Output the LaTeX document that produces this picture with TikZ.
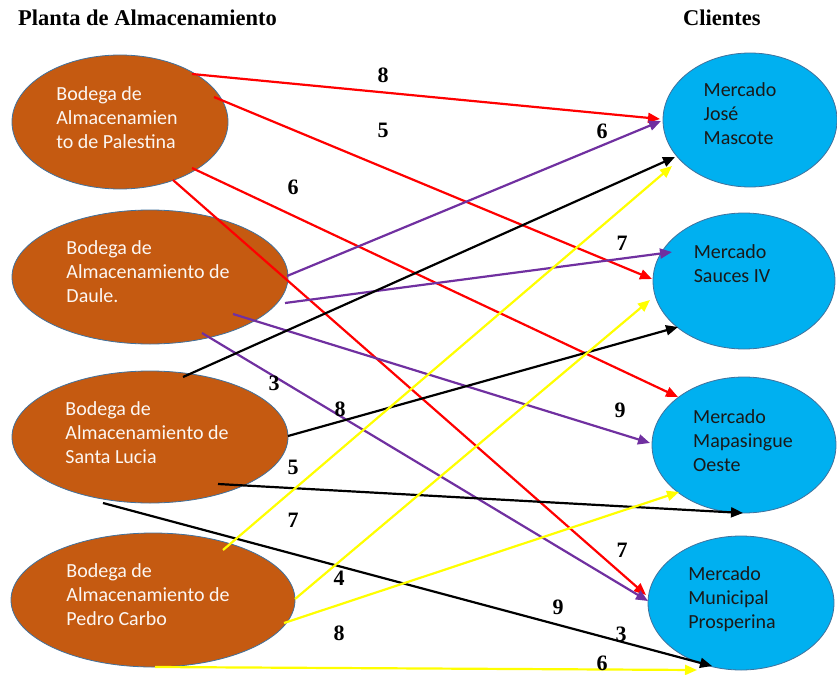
\documentclass[tikz,border=0pt]{standalone}
\usepackage{fontspec}
\setmainfont{Liberation Serif}
\newfontfamily\calibri{Carlito}
\usetikzlibrary{arrows.meta,shapes.geometric}
\definecolor{bodegabrown}{HTML}{C55A11}
\definecolor{mercadoblue}{HTML}{00B0F0}
\definecolor{rimblue}{HTML}{41719C}
\definecolor{violeta}{HTML}{7030A0}
\definecolor{amarillo}{HTML}{FFFF00}
\tikzset{
  bodega/.style={ellipse, fill=bodegabrown, draw=rimblue, line width=0.8pt, inner sep=0pt},
  mercado/.style={ellipse, fill=mercadoblue, draw=rimblue, line width=0.8pt, inner sep=0pt},
  btext/.style={align=left, inner sep=0pt, text=white!95!bodegabrown, font=\calibri\fontsize{20}{24}\selectfont},
  mtext/.style={align=left, inner sep=0pt, text=black!90, font=\calibri\fontsize{20}{24}\selectfont},
  titulo/.style={inner sep=0pt, font=\fontsize{22.5}{27}\selectfont\bfseries},
  peso/.style={inner sep=0pt, font=\fontsize{22}{26}\selectfont\bfseries}
}

\begin{document}
\begin{tikzpicture}[x=1pt, y=-1pt, >={Triangle[length=12pt,width=10pt]}, line width=2.2pt]
    \useasboundingbox (0,0) rectangle (837,674);
    \node[titulo, anchor=base west] (planta) at (17,26) {Planta de Almacenamiento};
    \node[titulo, anchor=base west] (clientes) at (682,26) {Clientes};

    \foreach \n/\x/\y/\w/\h in {e1/120/122/216/134, e2/150/277/276/134, e3/150/437/276/132, e4/153/600/284/134}
        \node[bodega, minimum width=\w pt, minimum height=\h pt] (\n) at (\x,\y) {};
    \foreach \n/\x/\y/\w/\h in {c1/750/120/174/134, c2/744/281/182/136, c3/744/445/184/136, c4/741/603/186/134}
        \node[mercado, minimum width=\w pt, minimum height=\h pt] (\n) at (\x,\y) {};

    \node[btext] (e1t) at ([shift={(-3,-4)}]e1.center) {Bodega de\\Almacenamien\\to de Palestina};
    \node[btext] (e2t) at ([shift={(-2,-5)}]e2.center) {Bodega de\\Almacenamiento de\\Daule.};
    \node[btext] (e3t) at ([shift={(-3,-4)}]e3.center) {Bodega de\\Almacenamiento de\\Santa Lucia};
    \node[btext] (e4t) at ([shift={(-5,-5)}]e4.center) {Bodega de\\Almacenamiento de\\Pedro Carbo};
    \node[mtext] (c1t) at ([shift={(-10,-6)}]c1.center) {Mercado\\José\\Mascote};
    \node[mtext] (c2t) at ([shift={(-12,-17)}]c2.center) {Mercado\\Sauces IV};
    \node[mtext] (c3t) at ([shift={(-1,-4)}]c3.center) {Mercado\\Mapasingue\\Oeste};
    \node[mtext] (c4t) at ([shift={(-9,-4)}]c4.center) {Mercado\\Municipal\\Prosperina};

    \foreach \a/\ax/\ay/\b/\bx/\by/\col in {
        e1/72/-48/c1/-90/-1/red, e1/94/-25/c2/-92/-2/red, e1/72/46/c3/-66/-48/red, e1/53/58/c4/-95/-8/red,
        e2/137/-1/c1/-89/1/violeta, e2/135/26/c2/-72/-29/violeta, e2/83/37/c3/-94/-2/violeta, e2/52/56/c4/-93/-2/violeta,
        e3/33/-60/c1/-75/37/black, e3/138/-1/c2/-66/46/black, e3/68/47/c3/-1/68/black, e3/-47/66/c4/-29/63/black,
        e4/70/-50/c1/-78/46/amarillo, e4/142/-1/c2/-94/19/amarillo, e4/131/23/c3/-65/47/amarillo, e4/2/67/c4/-44/67/amarillo}
        \draw[->, \col] ([shift={(\ax,\ay)}]\a.center) -- ([shift={(\bx,\by)}]\b.center);

    \foreach \x/\y/\t [count=\i] in {383/75/8, 383/130/5, 293/187/6, 602/131/6, 622/243/7, 274/383/3, 340/409/8, 620/410/9,
        293/467/5, 293/520/7, 339/578/4, 622/550/7, 558/607/9, 339/633/8, 621/634/3, 602/663/6}
        \node[peso] (w\i) at (\x,\y) {\t};
\end{tikzpicture}
\end{document}
